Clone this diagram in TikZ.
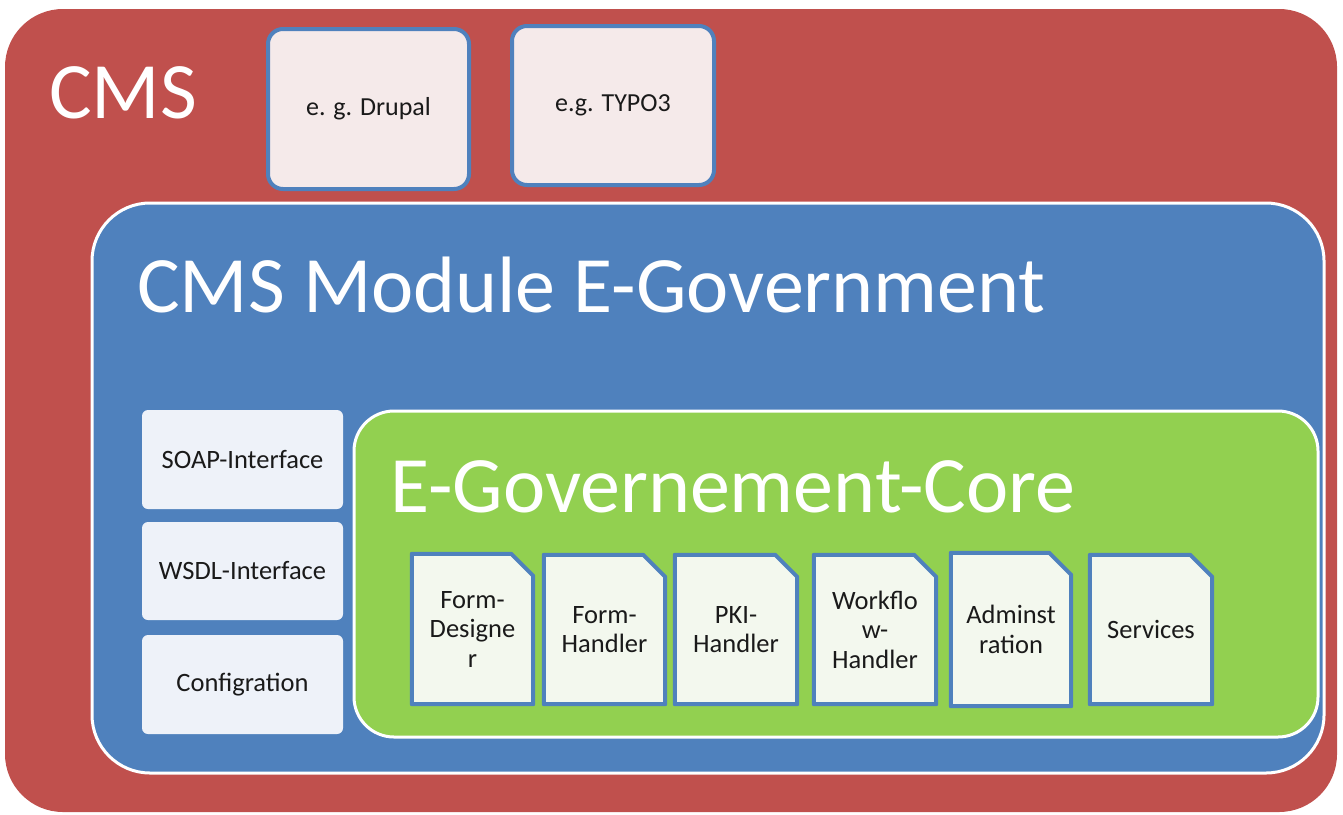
\documentclass[tikz,border=0pt]{standalone}
\usepackage{fontspec}
\setmainfont{Carlito}
\pgfdeclarelayer{bg}
\pgfdeclarelayer{mid}
\pgfsetlayers{bg,mid,main}
\definecolor{cmsred}{HTML}{C0504D}
\definecolor{modblue}{HTML}{4F81BD}
\definecolor{coregreen}{HTML}{92D050}
\definecolor{pinkfill}{HTML}{F5EAEA}
\definecolor{iffill}{HTML}{EEF2F9}
\definecolor{docfill}{HTML}{F3F8EE}
\definecolor{txt}{HTML}{1A1A1A}
\tikzset{
  container/.style={rectangle, inner sep=0pt},
  titletext/.style={anchor=base west, text=white, inner sep=0pt, font=\fontsize{80}{96}\selectfont},
  cmsbox/.style={rectangle, rounded corners=15pt, draw=modblue, line width=4pt, fill=pinkfill, inner sep=0pt, text=txt, font=\fontsize{26}{30}\selectfont},
  ifbox/.style={rectangle, rounded corners=6pt, fill=iffill, inner sep=0pt, text=txt, font=\fontsize{26.5}{30}\selectfont},
  doctext/.style={rectangle, inner sep=0pt, align=center, text=txt, font=\fontsize{26.5}{29.5}\selectfont},
  docshape/.style={draw=modblue, line width=4pt, fill=docfill, line join=round}
}
\begin{document}
\begin{tikzpicture}[x=1pt,y=-1pt]
\useasboundingbox (0,0) rectangle (1343,814);
\begin{pgfonlayer}{bg}
\node[container, fill=cmsred, rounded corners=58pt, minimum width=1332pt, minimum height=803pt] (cms) at (671,410.5) {};
\node[container, fill=modblue, draw=white, line width=3pt, rounded corners=58pt, minimum width=1232pt, minimum height=570pt] (mod) at (708,488) {};
\node[container, fill=coregreen, draw=white, line width=3pt, rounded corners=40pt, minimum width=964pt, minimum height=326pt] (core) at (836,574) {};
\end{pgfonlayer}
% titles
\node[titletext] (cmst) at (49,118) {CMS};
\node[titletext] (modt) at (137,312) {CMS Module E-Government};
\node[titletext] (coret) at (390,512) {E-Governement-Core};
% CMS examples
\node[cmsbox, minimum width=201pt, minimum height=160pt] (drupal) at (368.5,109) {e. g. Drupal};
\node[cmsbox, minimum width=202pt, minimum height=159pt] (typo) at (613,105.5) {e.g. TYPO3};
% interfaces
\node[ifbox, minimum width=201pt, minimum height=99pt] (soap) at (242.5,459.5) {SOAP-Interface};
\node[ifbox, minimum width=201pt, minimum height=98pt] (wsdl) at (242.5,571) {WSDL-Interface};
\node[ifbox, minimum width=201pt, minimum height=99pt] (conf) at (242.5,684.5) {Configration};
% documents
\node[doctext, minimum width=121pt, minimum height=150pt] (fd) at (472.5,629) {Form-\\Designe\\r};
\node[doctext, minimum width=121pt, minimum height=149pt] (fh) at (604.5,629.5) {Form-\\Handler};
\node[doctext, minimum width=122pt, minimum height=149pt] (pki) at (736,629.5) {PKI-\\Handler};
\node[doctext, minimum width=122pt, minimum height=149pt] (wf) at (875,629.5) {Workflo\\w-\\Handler};
\node[doctext, minimum width=120pt, minimum height=153pt] (ad) at (1011,629.5) {Adminst\\ration};
\node[doctext, minimum width=122pt, minimum height=149pt] (sv) at (1151,629.5) {Services};
\begin{pgfonlayer}{mid}
\foreach \n in {fd,fh,pki,wf,ad,sv}{
  \filldraw[docshape] (\n.south west) -- (\n.north west) -- ([xshift=-22pt]\n.north east) -- ([yshift=-22pt]\n.north east) -- (\n.south east) -- cycle;
}
\end{pgfonlayer}
\end{tikzpicture}
\end{document}
